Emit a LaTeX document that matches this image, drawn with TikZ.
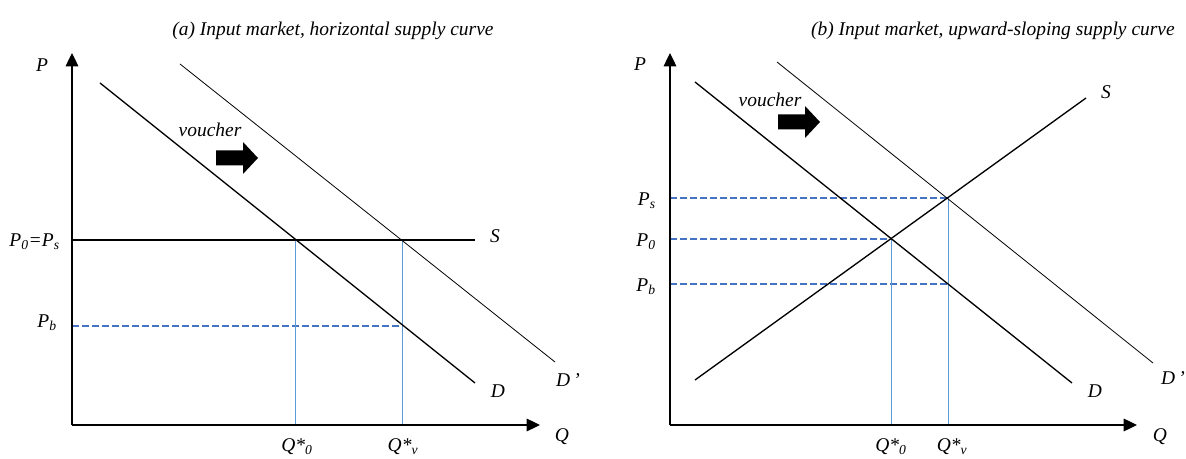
\documentclass[tikz,border=0pt]{standalone}
\usepackage{fontspec}
\setmainfont{Liberation Serif}
\usetikzlibrary{arrows.meta}
\definecolor{dashblue}{RGB}{68,114,196}
\definecolor{thinblue}{RGB}{91,155,213}

\begin{document}
\begin{tikzpicture}[x=0.75pt, y=-0.75pt, >={Triangle[length=10pt, width=9.5pt]},
  axis/.style={line width=0.9pt, ->},
  curve/.style={line width=1pt},
  shifted/.style={line width=0.6pt},
  pline/.style={dashblue, line width=1pt, dash pattern=on 5pt off 2.5pt},
  qline/.style={thinblue, line width=0.5pt},
  lbl/.style={font=\fontsize{14.6}{17}\selectfont\itshape, inner sep=0pt},
  voucharrow/.pic={\fill (0,-7.5) -- (27,-7.5) -- (27,-16) -- (42,0)
    -- (27,16) -- (27,7.5) -- (0,7.5) -- cycle;}]
  \useasboundingbox (0,0) rectangle (1186,459);

  % (a) horizontal supply
  \coordinate (Oa) at (72,425);
  \coordinate (Ya) at (72,53);
  \coordinate (Xa) at (540,425);
  \coordinate (Sa1) at (72,240);
  \coordinate (Sa2) at (475,240);
  \coordinate (Da1) at (100,83);
  \coordinate (Da2) at (475,383);
  \coordinate (Dpa1) at (180,64);
  \coordinate (Dpa2) at (555,362);
  \coordinate (Ea0) at (295,240);
  \coordinate (Eav) at (402,240);
  \coordinate (Bav) at (402,326);
  \coordinate (Bpa) at (72,326);
  \coordinate (Q0a) at (295,425);
  \coordinate (Qva) at (402,425);

  \draw[pline] (Bpa) -- (Bav);
  \draw[qline] (Ea0) -- (Q0a);
  \draw[qline] (Eav) -- (Qva);
  \draw[curve] (Sa1) -- (Sa2);
  \draw[curve] (Da1) -- (Da2);
  \draw[shifted] (Dpa1) -- (Dpa2);
  \draw[axis] (Oa) -- (Ya);
  \draw[axis] (Oa) -- (Xa);

  \node[lbl, anchor=base] (ttla) at (333,36) {(a) Input market, horizontal supply curve};
  \node[lbl, anchor=base] (pa) at (42,72) {P};
  \node[lbl, anchor=base] (qa) at (562,442) {Q};
  \node[lbl, anchor=base east] (p0a) at (60,247) {P\textsubscript{0}=P\textsubscript{s}};
  \node[lbl, anchor=base east] (pba) at (57,328) {P\textsubscript{b}};
  \node[lbl] (sa) at (495,236) {S};
  \node[lbl] (da) at (498,391) {D};
  \node[lbl] (dpa) at (568,380) {D\,’};
  \node[lbl, anchor=base] (q0a) at (297,452) {Q*\textsubscript{0}};
  \node[lbl, anchor=base] (qva) at (403,452) {Q*\textsubscript{v}};
  \node[lbl] (va) at (210,130) {voucher};
  \pic at (216,158) {voucharrow};

  % (b) upward-sloping supply
  \coordinate (Ob) at (670,425);
  \coordinate (Yb) at (670,53);
  \coordinate (Xb) at (1137,425);
  \coordinate (Sb1) at (695,380);
  \coordinate (Sb2) at (1086,98);
  \coordinate (Db1) at (695,82);
  \coordinate (Db2) at (1072,383);
  \coordinate (Dpb1) at (777,62);
  \coordinate (Dpb2) at (1153,363);
  \coordinate (Eb0) at (891,239);
  \coordinate (Ebv) at (948,198);
  \coordinate (Bbv) at (948,284);
  \coordinate (Psb) at (670,198);
  \coordinate (P0b) at (670,239);
  \coordinate (Pbb) at (670,284);
  \coordinate (Q0b) at (891,425);
  \coordinate (Qvb) at (948,425);

  \draw[pline] (Psb) -- (Ebv);
  \draw[pline] (P0b) -- (Eb0);
  \draw[pline] (Pbb) -- (Bbv);
  \draw[qline] (Eb0) -- (Q0b);
  \draw[qline] (Ebv) -- (Qvb);
  \draw[curve] (Sb1) -- (Sb2);
  \draw[curve] (Db1) -- (Db2);
  \draw[shifted] (Dpb1) -- (Dpb2);
  \draw[axis] (Ob) -- (Yb);
  \draw[axis] (Ob) -- (Xb);

  \node[lbl, anchor=base east] (ttlb) at (1175,36) {(b) Input market, upward-sloping supply curve};
  \node[lbl, anchor=base] (pb) at (640,71) {P};
  \node[lbl, anchor=base] (qb) at (1160,442) {Q};
  \node[lbl, anchor=base east] (psb) at (656,206) {P\textsubscript{s}};
  \node[lbl, anchor=base east] (p0b) at (656,247) {P\textsubscript{0}};
  \node[lbl, anchor=base east] (pbb) at (656,292) {P\textsubscript{b}};
  \node[lbl] (sb) at (1106,92) {S};
  \node[lbl] (db) at (1095,391) {D};
  \node[lbl] (dpb) at (1173,378) {D\,’};
  \node[lbl, anchor=base] (q0b) at (891,452) {Q*\textsubscript{0}};
  \node[lbl, anchor=base] (qvb) at (952,452) {Q*\textsubscript{v}};
  \node[lbl] (vb) at (770,100) {voucher};
  \pic at (778,122) {voucharrow};
\end{tikzpicture}
\end{document}
